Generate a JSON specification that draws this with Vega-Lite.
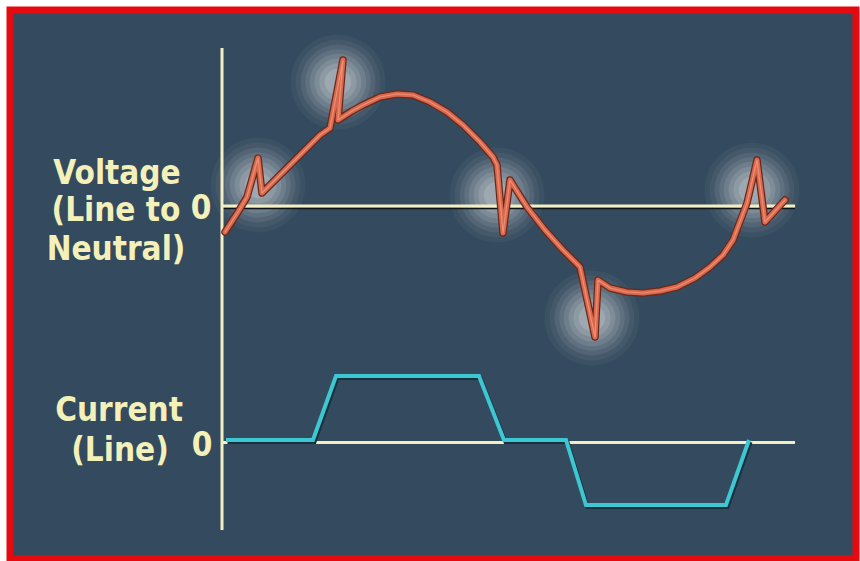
{
  "$schema": "https://vega.github.io/schema/vega-lite/v6.json",
  "width": 860,
  "height": 561,
  "autosize": {"type": "fit", "contains": "padding"},
  "padding": {"left": 10, "top": 10, "right": 4, "bottom": 2},
  "background": "white",
  "config": {"view": {"stroke": "#e50a0f", "strokeWidth": 7, "fill": "#344a5e"}},
  "datasets": {
    "voltage": [
      {"k": 1, "t": 3, "v": -26}, {"k": 2, "t": 16, "v": -6}, {"k": 3, "t": 25, "v": 9},
      {"k": 4, "t": 36, "v": 48}, {"k": 5, "t": 40, "v": 13}, {"k": 6, "t": 58, "v": 31},
      {"k": 7, "t": 78, "v": 51}, {"k": 8, "t": 98, "v": 71}, {"k": 9, "t": 108, "v": 78},
      {"k": 10, "t": 121, "v": 146}, {"k": 11, "t": 116, "v": 86}, {"k": 12, "t": 130, "v": 95},
      {"k": 13, "t": 141, "v": 101}, {"k": 14, "t": 158, "v": 109}, {"k": 15, "t": 175, "v": 112},
      {"k": 16, "t": 191, "v": 111}, {"k": 17, "t": 208, "v": 104}, {"k": 18, "t": 225, "v": 94},
      {"k": 19, "t": 241, "v": 81}, {"k": 20, "t": 258, "v": 64}, {"k": 21, "t": 271, "v": 49},
      {"k": 22, "t": 275, "v": 41}, {"k": 23, "t": 281, "v": -27}, {"k": 24, "t": 288, "v": 26},
      {"k": 25, "t": 305, "v": -1}, {"k": 26, "t": 323, "v": -24}, {"k": 27, "t": 341, "v": -44},
      {"k": 28, "t": 358, "v": -61}, {"k": 29, "t": 373, "v": -131}, {"k": 30, "t": 376, "v": -74},
      {"k": 31, "t": 388, "v": -82}, {"k": 32, "t": 405, "v": -86}, {"k": 33, "t": 421, "v": -87},
      {"k": 34, "t": 438, "v": -85}, {"k": 35, "t": 455, "v": -81}, {"k": 36, "t": 473, "v": -72},
      {"k": 37, "t": 488, "v": -61}, {"k": 38, "t": 501, "v": -49}, {"k": 39, "t": 511, "v": -34},
      {"k": 40, "t": 525, "v": 3}, {"k": 41, "t": 535, "v": 46}, {"k": 42, "t": 543, "v": -16},
      {"k": 43, "t": 563, "v": 6}
    ],
    "current": [
      {"k": 1, "t": 4, "i": 0}, {"k": 2, "t": 91, "i": 0}, {"k": 3, "t": 114, "i": 64},
      {"k": 4, "t": 257, "i": 64}, {"k": 5, "t": 282, "i": 0}, {"k": 6, "t": 344, "i": 0},
      {"k": 7, "t": 364, "i": -65}, {"k": 8, "t": 504, "i": -65}, {"k": 9, "t": 527, "i": 0}
    ],
    "glow": [
      {"t": 36, "v": 21}, {"t": 116, "v": 124}, {"t": 275, "v": 11},
      {"t": 370, "v": -112}, {"t": 530, "v": 16}
    ],
    "labels": [
      {"text": "Voltage", "t": -105, "v": 22},
      {"text": "(Line to", "t": -106, "v": -15},
      {"text": "Neutral)", "t": -106, "v": -54},
      {"text": "0", "t": -21, "v": -13},
      {"text": "Current", "t": -103, "v": -215},
      {"text": "(Line)", "t": -102, "v": -255},
      {"text": "0", "t": -20, "v": -250}
    ],
    "yaxis": [{"t": 0, "v1": 158, "v2": -324}],
    "vzero": [{"v": 0, "t1": 0, "t2": 573}],
    "izero": [{"i": 0, "t1": 0, "t2": 573}]
  },
  "layer": [
    {
      "layer": [
        {
          "data": {"name": "glow"},
          "encoding": {
            "x": {"field": "t", "type": "quantitative", "scale": {"domain": [-212, 634], "nice": false, "zero": false}, "axis": null},
            "y": {"field": "v", "type": "quantitative", "scale": {"domain": [-353, 196], "nice": false, "zero": false}, "axis": null}
          },
          "layer": [
            {"mark": {"type": "point", "filled": true, "color": "white", "size": 9000, "opacity": 0.04}},
            {"mark": {"type": "point", "filled": true, "color": "white", "size": 7200, "opacity": 0.05}},
            {"mark": {"type": "point", "filled": true, "color": "white", "size": 5600, "opacity": 0.07}},
            {"mark": {"type": "point", "filled": true, "color": "white", "size": 4300, "opacity": 0.08}},
            {"mark": {"type": "point", "filled": true, "color": "white", "size": 3200, "opacity": 0.1}},
            {"mark": {"type": "point", "filled": true, "color": "white", "size": 2200, "opacity": 0.11}},
            {"mark": {"type": "point", "filled": true, "color": "white", "size": 1400, "opacity": 0.12}},
            {"mark": {"type": "point", "filled": true, "color": "white", "size": 700, "opacity": 0.14}}
          ]
        },
        {
          "data": {"name": "vzero"},
          "mark": {"type": "rule", "color": "#0c1418", "strokeWidth": 1.5, "yOffset": 2.5},
          "encoding": {
            "x": {"field": "t1", "type": "quantitative", "scale": {"domain": [-212, 634], "nice": false, "zero": false}, "axis": null},
            "x2": {"field": "t2"},
            "y": {"field": "v", "type": "quantitative", "scale": {"domain": [-353, 196], "nice": false, "zero": false}, "axis": null}
          }
        },
        {
          "data": {"name": "vzero"},
          "mark": {"type": "rule", "color": "#f3efc4", "strokeWidth": 3},
          "encoding": {
            "x": {"field": "t1", "type": "quantitative", "scale": {"domain": [-212, 634], "nice": false, "zero": false}, "axis": null},
            "x2": {"field": "t2"},
            "y": {"field": "v", "type": "quantitative", "scale": {"domain": [-353, 196], "nice": false, "zero": false}, "axis": null}
          }
        },
        {
          "data": {"name": "yaxis"},
          "mark": {"type": "rule", "color": "#f3efc4", "strokeWidth": 3},
          "encoding": {
            "x": {"field": "t", "type": "quantitative", "scale": {"domain": [-212, 634], "nice": false, "zero": false}, "axis": null},
            "y": {"field": "v1", "type": "quantitative", "scale": {"domain": [-353, 196], "nice": false, "zero": false}, "axis": null},
            "y2": {"field": "v2"}
          }
        },
        {
          "data": {"name": "voltage"},
          "encoding": {
            "x": {"field": "t", "type": "quantitative", "scale": {"domain": [-212, 634], "nice": false, "zero": false}, "axis": null},
            "y": {"field": "v", "type": "quantitative", "scale": {"domain": [-353, 196], "nice": false, "zero": false}, "axis": null},
            "order": {"field": "k", "type": "quantitative"}
          },
          "layer": [
            {"mark": {"type": "line", "color": "#6a2818", "strokeWidth": 7.5, "strokeJoin": "round", "strokeCap": "round"}},
            {"mark": {"type": "line", "color": "#d9694e", "strokeWidth": 5, "strokeJoin": "round", "strokeCap": "round"}},
            {"mark": {"type": "line", "color": "#ec9077", "strokeWidth": 1.2, "strokeJoin": "round", "strokeCap": "round"}}
          ]
        },
        {
          "data": {"name": "labels"},
          "mark": {"type": "text", "font": "DejaVu Sans Condensed", "fontWeight": "bold", "fontSize": 33, "align": "center", "baseline": "alphabetic", "color": "#f4f0ba"},
          "encoding": {
            "x": {"field": "t", "type": "quantitative", "scale": {"domain": [-212, 634], "nice": false, "zero": false}, "axis": null},
            "y": {"field": "v", "type": "quantitative", "scale": {"domain": [-353, 196], "nice": false, "zero": false}, "axis": null},
            "text": {"field": "text"}
          }
        }
      ]
    },
    {
      "layer": [
        {
          "data": {"name": "izero"},
          "mark": {"type": "rule", "color": "#f3efc4", "strokeWidth": 3, "yOffset": 2.5},
          "encoding": {
            "x": {"field": "t1", "type": "quantitative", "scale": {"domain": [-212, 634], "nice": false, "zero": false}, "axis": null},
            "x2": {"field": "t2"},
            "y": {"field": "i", "type": "quantitative", "scale": {"domain": [-119, 430], "nice": false, "zero": false}, "axis": null}
          }
        },
        {
          "data": {"name": "current"},
          "encoding": {
            "x": {"field": "t", "type": "quantitative", "scale": {"domain": [-212, 634], "nice": false, "zero": false}, "axis": null},
            "y": {"field": "i", "type": "quantitative", "scale": {"domain": [-119, 430], "nice": false, "zero": false}, "axis": null},
            "order": {"field": "k", "type": "quantitative"}
          },
          "layer": [
            {"mark": {"type": "line", "color": "#17303e", "strokeWidth": 4, "strokeJoin": "miter", "xOffset": 1.5, "yOffset": 2}},
            {"mark": {"type": "line", "color": "#3cc7d2", "strokeWidth": 4, "strokeJoin": "miter"}}
          ]
        }
      ]
    }
  ],
  "resolve": {"scale": {"y": "independent"}}
}
